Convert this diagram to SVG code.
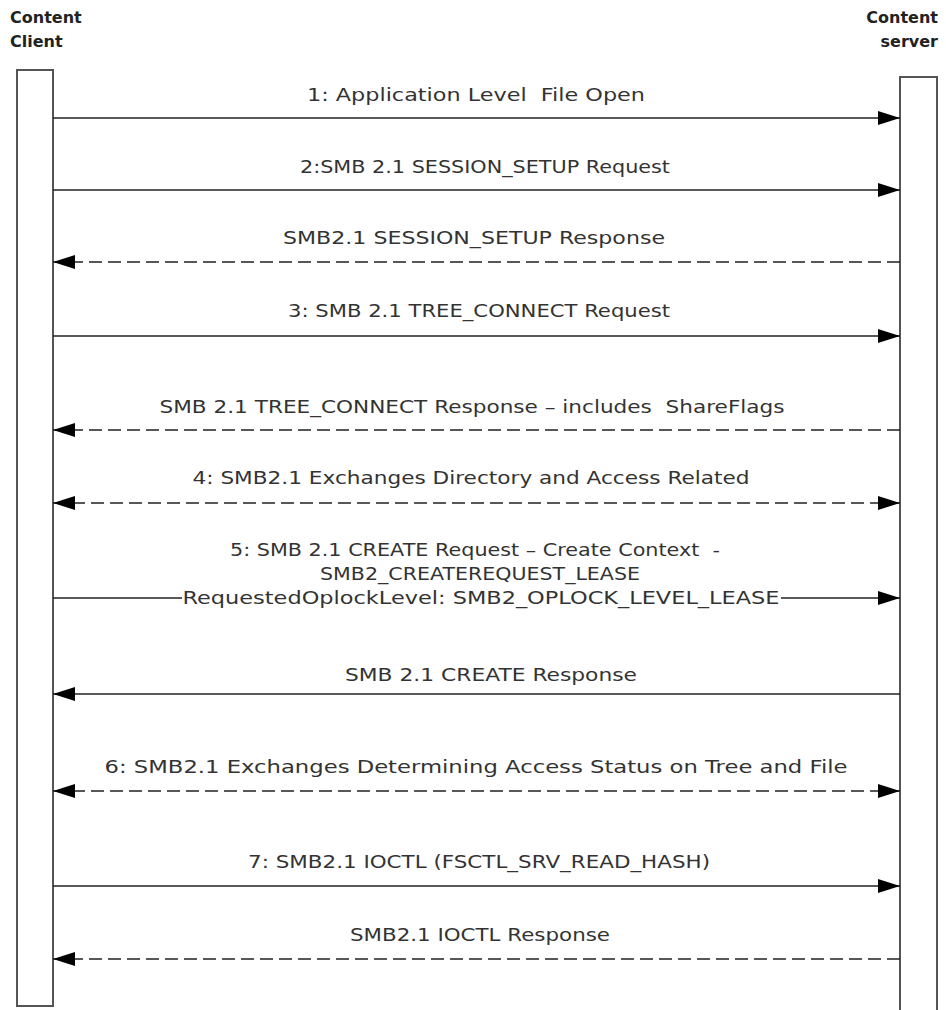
<svg xmlns="http://www.w3.org/2000/svg" width="946" height="1010" viewBox="0 0 946 1010">
<defs>
<style>
.title{font-family:"DejaVu Sans",Verdana,sans-serif;font-weight:bold;font-size:16px;fill:#222}
.lbl{font-family:"DejaVu Sans",Verdana,sans-serif;font-size:17px;fill:#333;text-anchor:middle;white-space:pre}
.life{fill:#fff;stroke:#555;stroke-width:2}
.msg{stroke:#222;stroke-width:1.6;fill:none}
.dash{stroke-dasharray:13 6}
</style>
<marker id="ah" markerUnits="userSpaceOnUse" markerWidth="24" markerHeight="16" refX="22" refY="7" orient="auto-start-reverse">
<path d="M0,0 L22,7 L0,14 Z" fill="#000"/>
</marker>
</defs>
<rect width="946" height="1010" fill="#fff"/>
<g id="client">
<text class="title" x="10" y="23">Content</text>
<text class="title" x="10" y="47">Client</text>
<rect class="life" x="17" y="70" width="36" height="936"/>
</g>
<g id="server">
<text class="title" x="938" y="23" text-anchor="end">Content</text>
<text class="title" x="938" y="47" text-anchor="end">server</text>
<rect class="life" x="900" y="77" width="37" height="960"/>
</g>
<g id="connectors">
<line class="msg" x1="53" y1="118" x2="900" y2="118" marker-end="url(#ah)"/>
<line class="msg" x1="53" y1="190" x2="900" y2="190" marker-end="url(#ah)"/>
<line class="msg dash" x1="900" y1="262" x2="53" y2="262" marker-end="url(#ah)"/>
<line class="msg" x1="53" y1="336" x2="900" y2="336" marker-end="url(#ah)"/>
<line class="msg dash" x1="900" y1="430" x2="53" y2="430" marker-end="url(#ah)"/>
<line class="msg dash" x1="53" y1="503" x2="900" y2="503" marker-start="url(#ah)" marker-end="url(#ah)"/>
<line class="msg" x1="53" y1="598" x2="182" y2="598"/>
<line class="msg" x1="781" y1="598" x2="900" y2="598" marker-end="url(#ah)"/>
<line class="msg" x1="900" y1="694" x2="53" y2="694" marker-end="url(#ah)"/>
<line class="msg dash" x1="53" y1="791" x2="900" y2="791" marker-start="url(#ah)" marker-end="url(#ah)"/>
<line class="msg" x1="53" y1="886" x2="900" y2="886" marker-end="url(#ah)"/>
<line class="msg dash" x1="900" y1="959" x2="53" y2="959" marker-end="url(#ah)"/>
</g>
<g id="labels">
<text class="lbl" x="476" y="101" textLength="338" lengthAdjust="spacingAndGlyphs">1: Application Level  File Open</text>
<text class="lbl" x="485" y="173" textLength="370" lengthAdjust="spacingAndGlyphs">2:SMB 2.1 SESSION_SETUP Request</text>
<text class="lbl" x="474" y="244" textLength="382" lengthAdjust="spacingAndGlyphs">SMB2.1 SESSION_SETUP Response</text>
<text class="lbl" x="479" y="317" textLength="382" lengthAdjust="spacingAndGlyphs">3: SMB 2.1 TREE_CONNECT Request</text>
<text class="lbl" x="472" y="413" textLength="625" lengthAdjust="spacingAndGlyphs">SMB 2.1 TREE_CONNECT Response – includes  ShareFlags</text>
<text class="lbl" x="471" y="484" textLength="557" lengthAdjust="spacingAndGlyphs">4: SMB2.1 Exchanges Directory and Access Related</text>
<text class="lbl" x="475" y="556" textLength="490" lengthAdjust="spacingAndGlyphs">5: SMB 2.1 CREATE Request – Create Context  -</text>
<text class="lbl" x="480" y="580" textLength="320" lengthAdjust="spacingAndGlyphs">SMB2_CREATEREQUEST_LEASE</text>
<text class="lbl" x="481" y="604" textLength="597" lengthAdjust="spacingAndGlyphs">RequestedOplockLevel: SMB2_OPLOCK_LEVEL_LEASE</text>
<text class="lbl" x="491" y="681" textLength="292" lengthAdjust="spacingAndGlyphs">SMB 2.1 CREATE Response</text>
<text class="lbl" x="476" y="773" textLength="743" lengthAdjust="spacingAndGlyphs">6: SMB2.1 Exchanges Determining Access Status on Tree and File</text>
<text class="lbl" x="479" y="868" textLength="462" lengthAdjust="spacingAndGlyphs">7: SMB2.1 IOCTL (FSCTL_SRV_READ_HASH)</text>
<text class="lbl" x="480" y="941" textLength="260" lengthAdjust="spacingAndGlyphs">SMB2.1 IOCTL Response</text>
</g>
</svg>
